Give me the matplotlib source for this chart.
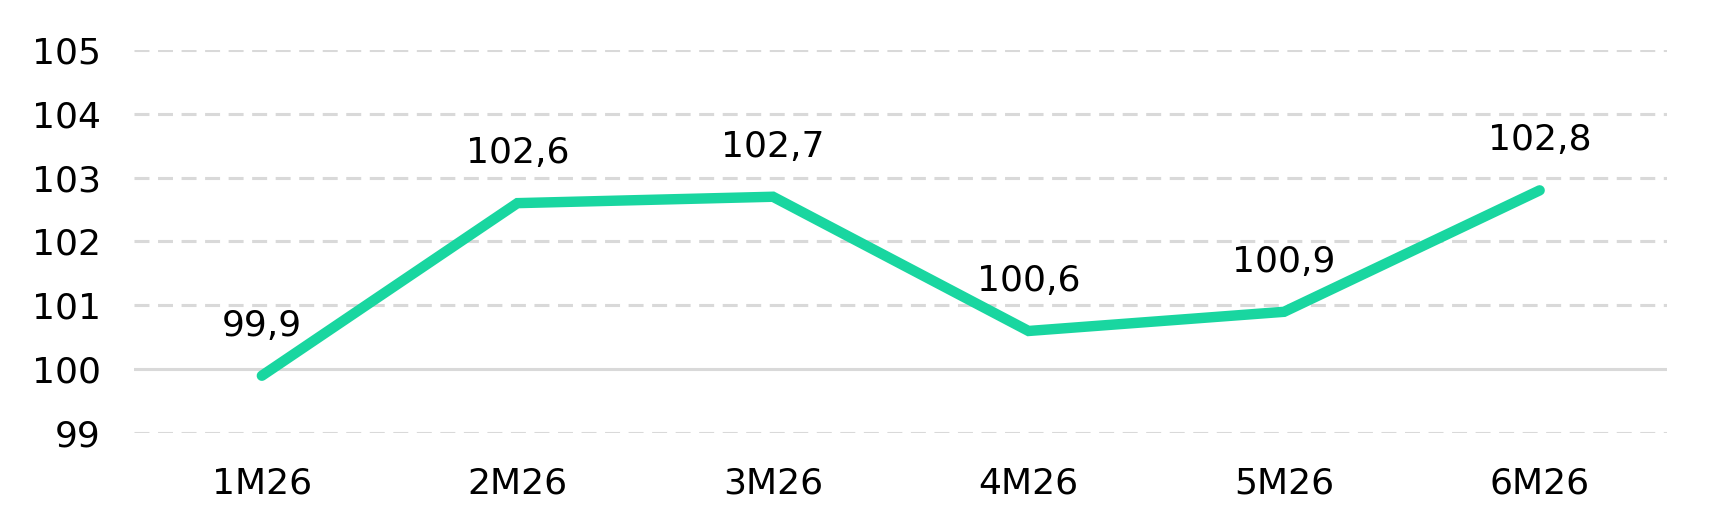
import matplotlib
matplotlib.use("Agg")
import matplotlib.pyplot as plt

categories = ["1M26", "2M26", "3M26", "4M26", "5M26", "6M26"]
values = [99.9, 102.6, 102.7, 100.6, 100.9, 102.8]
labels = ["99,9", "102,6", "102,7", "100,6", "100,9", "102,8"]
yticks = [99, 100, 101, 102, 103, 104, 105]

plt.rcParams['font.family'] = ['DejaVu Sans']

fig = plt.figure(figsize=(17.19, 5.29), dpi=100)
ax = fig.add_axes([0.078, 0.181, 0.892, 0.725])

x = list(range(len(categories)))
ax.plot(x, values, color='#19D6A0', linewidth=7.5, solid_capstyle='round',
        solid_joinstyle='miter', zorder=3)

for xi, v, lab in zip(x, values, labels):
    ax.annotate(lab, (xi, v), xytext=(0, 36), textcoords='offset points',
                ha='center', va='center', fontsize=26, color='#000000')

ax.set_xlim(-0.5, len(categories) - 0.5)
ax.set_ylim(99, 105)
ax.set_yticks(yticks)
ax.set_yticklabels([str(t) for t in yticks])
ax.set_xticks(x)
ax.set_xticklabels(categories)

for t in yticks:
    if t == 100:
        ax.axhline(t, color='#D9D9D9', linewidth=2.2, zorder=1)
    else:
        ax.axhline(t, color='#D9D9D9', linewidth=2.2, linestyle=(0, (4.9, 2.8)), zorder=1)

for s in ax.spines.values():
    s.set_visible(False)
ax.tick_params(axis='both', length=0, labelsize=26, colors='#000000')
ax.tick_params(axis='y', pad=24)
ax.tick_params(axis='x', pad=24)

fig.savefig("out.png", dpi=100, facecolor='white')
